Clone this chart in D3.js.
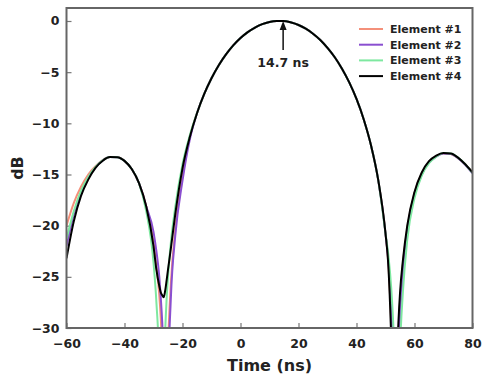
<!DOCTYPE html>
<html>
<head>
<meta charset="utf-8">
<script src="https://cdn.jsdelivr.net/npm/d3@7"></script>
<style>
  html, body { margin: 0; padding: 0; background: #fff; }
  svg { display: block; }
  text { font-family: "DejaVu Sans", sans-serif; font-weight: bold; fill: #222; }
</style>
</head>
<body>
<svg id="chart" width="482" height="376"></svg>
<script>
// Sample times (ns)
const times = [-60, -57.5, -55, -52.5, -50, -47.5, -45, -42.5, -40, -37.5, -35, -32.5, -30,
  -29, -28, -27.5, -27, -26.5, -26, -25.5, -25, -24,
  -22.5, -20, -17.5, -15, -12.5, -10, -7.5, -5, -2.5, 0, 2.5, 5, 7.5, 10, 12.5,
  14.7,
  17.5, 20, 22.5, 25, 27.5, 30, 32.5, 35, 37.5, 40, 42.5, 45, 47.5, 50,
  51, 52, 52.5, 53, 53.5, 54, 54.5, 55, 56,
  57.5, 60, 62.5, 65, 67.5, 70, 72.5, 75, 77.5, 80];

// Normalized response per element (dB)
const element1 = [-20.0, -17.8, -16.2, -15.0, -14.2, -13.6, -13.3, -13.3, -13.67, -14.47, -15.85, -18.1, -21.6,
  -24.0, -26.8, -29.0, -32.4, -38.5, -50, -38, -32, -25.6,
  -20.4, -15.2, -11.37, -9.01, -7.13, -5.6, -4.33, -3.27, -2.39, -1.67, -1.09, -0.64, -0.31, -0.1, -0.01,
  0,
  -0.15, -0.39, -0.75, -1.24, -1.85, -2.62, -3.54, -4.66, -6.0, -7.62, -9.62, -12.15, -15.55, -20.75,
  -23.8, -29.8, -34, -42.5, -46, -35, -30.3, -27.5, -23.8,
  -20.3, -16.8, -14.9, -13.8, -13.2, -12.95, -13.0, -13.4, -14.0, -14.8];

const element2 = [-22.0, -18.9, -16.8, -15.3, -14.3, -13.62, -13.3, -13.31, -13.67, -14.47, -15.85, -18.13, -20.6,
  -22.5, -25.0, -27.0, -29.4, -33.1, -40, -50, -36.3, -27.0,
  -21.0, -15.6, -11.6, -9.01, -7.13, -5.6, -4.33, -3.27, -2.39, -1.67, -1.09, -0.64, -0.31, -0.1, -0.01,
  0,
  -0.15, -0.39, -0.75, -1.24, -1.85, -2.62, -3.54, -4.66, -6.0, -7.62, -9.62, -12.15, -15.55, -20.75,
  -23.5, -28.0, -31.2, -36.5, -50, -40, -32.9, -29.0, -24.8,
  -20.6, -17.0, -15.0, -13.85, -13.25, -12.95, -13.0, -13.4, -14.05, -14.9];

const element3 = [-21.3, -18.6, -16.6, -15.25, -14.26, -13.62, -13.3, -13.31, -13.67, -14.47, -15.85, -18.6, -23.6,
  -27.5, -34, -42, -50, -36, -30.6, -27.3, -25.0, -21.6,
  -18.2, -14.0, -11.2, -9.01, -7.13, -5.6, -4.33, -3.27, -2.39, -1.67, -1.09, -0.64, -0.31, -0.1, -0.01,
  0,
  -0.15, -0.39, -0.75, -1.24, -1.85, -2.62, -3.54, -4.66, -6.0, -7.62, -9.62, -12.15, -15.55, -20.75,
  -22.9, -26.2, -28.6, -32, -38, -50, -38.5, -32.3, -26.5,
  -21.4, -17.3, -15.1, -13.9, -13.25, -12.9, -12.95, -13.35, -14.0, -14.85];

const element4 = [-23.2, -19.6, -17.1, -15.5, -14.35, -13.65, -13.3, -13.31, -13.67, -14.47, -15.85, -18.13, -22.0,
  -24.3, -25.9, -26.5, -26.8, -27.0, -26.4, -25.4, -24.3, -22.2,
  -18.9, -14.4, -11.37, -9.01, -7.13, -5.6, -4.33, -3.27, -2.39, -1.67, -1.09, -0.64, -0.31, -0.1, -0.01,
  0,
  -0.15, -0.39, -0.75, -1.24, -1.85, -2.62, -3.54, -4.66, -6.0, -7.62, -9.62, -12.15, -15.55, -20.75,
  -24.0, -31.3, -36.5, -50, -40, -33, -29.2, -26.6, -23.4,
  -20.0, -16.7, -14.8, -13.7, -13.15, -12.9, -12.95, -13.35, -14.0, -14.8];

const seriesNames = ["Element #1", "Element #2", "Element #3", "Element #4"];
const seriesColors = ["#f4907a", "#8a4fd0", "#7ee8a0", "#000000"];

const xTicks = [-60, -40, -20, 0, 20, 40, 60, 80];
const yTicks = [0, -5, -10, -15, -20, -25, -30];

const peakTime = 14.7;
const peakLabel = "14.7 ns";

const svg = d3.select("#chart");
const plot = { left: 66.5, right: 472.5, top: 8, bottom: 328 };

const x = d3.scaleLinear().domain([-60, 80]).range([plot.left, plot.right]);
const y = d3.scaleLinear().domain([-30, 1.27]).range([plot.bottom, plot.top]);

svg.append("defs").append("clipPath").attr("id", "plotClip")
  .append("rect")
  .attr("x", plot.left).attr("y", plot.top)
  .attr("width", plot.right - plot.left).attr("height", plot.bottom - plot.top);

// Axes with inward ticks
const fmt = d => d < 0 ? "\u2212" + Math.abs(d) : String(d);

const xAxis = svg.append("g")
  .attr("transform", `translate(0,${plot.bottom})`)
  .call(d3.axisBottom(x).tickValues(xTicks).tickFormat(fmt).tickSizeInner(-5).tickSizeOuter(0).tickPadding(9));
const yAxis = svg.append("g")
  .attr("transform", `translate(${plot.left},0)`)
  .call(d3.axisLeft(y).tickValues(yTicks).tickFormat(fmt).tickSizeInner(-5).tickSizeOuter(0).tickPadding(7));

[xAxis, yAxis].forEach(g => {
  g.select(".domain").remove();
  g.selectAll(".tick line").attr("stroke", "#777").attr("stroke-width", 1.2);
  g.selectAll(".tick text").attr("font-size", 12.5).attr("fill", "#222")
    .style("font-family", "'DejaVu Sans', sans-serif").style("font-weight", "bold");
});
xAxis.selectAll(".tick text").attr("dy", "0.9em");

// Curves
const line = d3.line()
  .x((d, i) => x(times[i]))
  .y(d => y(d))
  .curve(d3.curveMonotoneX);

const series = [element1, element2, element3, element4];
const curves = svg.append("g").attr("clip-path", "url(#plotClip)");
series.forEach((vals, k) => {
  curves.append("path")
    .datum(vals)
    .attr("d", line)
    .attr("fill", "none")
    .attr("stroke", seriesColors[k])
    .attr("stroke-width", 2)
    .attr("stroke-linejoin", "round");
});

// Frame
svg.append("rect")
  .attr("x", plot.left).attr("y", plot.top)
  .attr("width", plot.right - plot.left).attr("height", plot.bottom - plot.top)
  .attr("fill", "none").attr("stroke", "#666").attr("stroke-width", 2);

// Peak annotation
const px = x(peakTime);
svg.append("line")
  .attr("x1", px).attr("x2", px)
  .attr("y1", y(0) + 29).attr("y2", y(0) + 7)
  .attr("stroke", "#111").attr("stroke-width", 1.5);
svg.append("path")
  .attr("d", `M${px},${y(0)} L${px - 3.5},${y(0) + 9} L${px + 3.5},${y(0) + 9} Z`)
  .attr("fill", "#111");
svg.append("text")
  .attr("x", px).attr("y", y(0) + 46)
  .attr("text-anchor", "middle")
  .attr("font-size", 12.5)
  .text(peakLabel);

// Legend
const legend = svg.append("g");
seriesNames.forEach((name, k) => {
  const ly = 29 + k * 15.7;
  legend.append("line")
    .attr("x1", 359).attr("x2", 383)
    .attr("y1", ly).attr("y2", ly)
    .attr("stroke", seriesColors[k]).attr("stroke-width", 2);
  legend.append("text")
    .attr("x", 390).attr("y", ly + 4)
    .attr("font-size", 11)
    .text(name);
});

// Axis titles
svg.append("text")
  .attr("x", (plot.left + plot.right) / 2).attr("y", 371)
  .attr("text-anchor", "middle")
  .attr("font-size", 16)
  .text("Time (ns)");
svg.append("text")
  .attr("transform", `translate(23,${(plot.top + plot.bottom) / 2}) rotate(-90)`)
  .attr("text-anchor", "middle")
  .attr("font-size", 16)
  .text("dB");
</script>
</body>
</html>
